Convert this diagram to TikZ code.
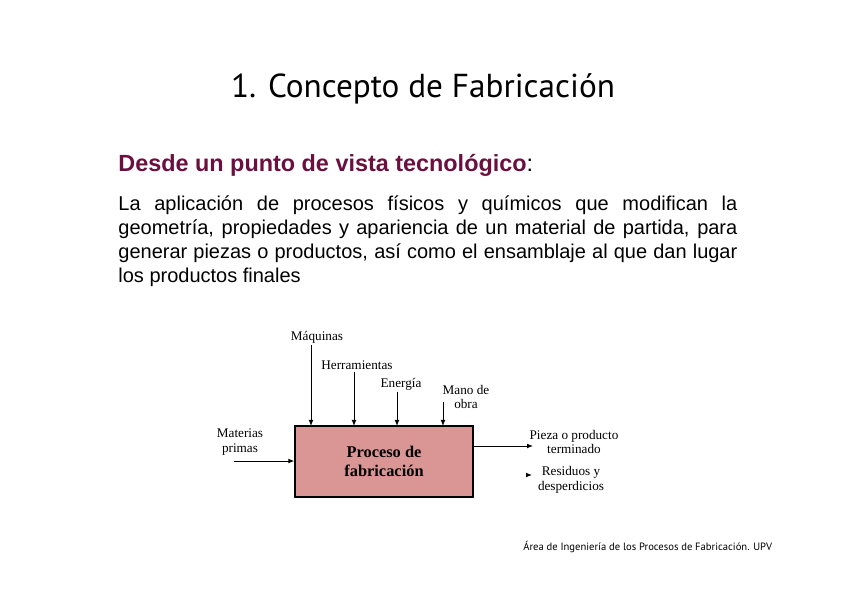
\documentclass[tikz,border=0pt]{standalone}
\usepackage{fontspec}
\setmainfont{Liberation Sans}
\newfontfamily\serifdiag{Liberation Serif}
\newfontfamily\titlefont{PT Sans}
\usepackage{tikz}
\usetikzlibrary{arrows.meta, positioning}
\usepackage{xcolor}
\definecolor{maroon}{HTML}{6B0F3F}
\definecolor{procfill}{HTML}{D99694}

\begin{document}
\begin{tikzpicture}[
    x=0.5pt, y=-0.5pt,
    lbl/.style = {font=\serifdiag\fontsize{6.6}{7.4}\selectfont, align=center, inner sep=0pt},
    procbox/.style = {rectangle, draw=black, fill=procfill, line width=0.7pt, minimum width=89pt, minimum height=35.5pt, align=center, font=\serifdiag\bfseries\fontsize{8.2}{9.6}\selectfont},
    flow/.style = {draw=black, line width=0.45pt, -{Latex[length=3pt,width=2.4pt]}}
]
\useasboundingbox (0,0) rectangle (848,599);

% Title and text
\node (title) [anchor=base, font=\titlefont\fontsize{16.6}{19}\selectfont, inner sep=0pt] at (423,98) {1. Concepto de Fabricación};
\node (heading) [anchor=base west, font=\bfseries\fontsize{11.7}{13}\selectfont, text=maroon, inner sep=0pt] at (118,172) {Desde un punto de vista tecnológico\textcolor{black}{\mdseries:}};
\node (body) [anchor=north west, text width=309.5pt, align=justify, font=\fontsize{10}{12}\selectfont, inner sep=0pt] at (118,195) {\tolerance=9999 La aplicación de procesos físicos y químicos que modifican la \mbox{geometría}, propiedades y apariencia de un material de partida, para generar piezas o productos, así como el ensamblaje al que dan lugar los productos finales};

% Process box
\node (proc) [procbox] at (384,461.5) {Proceso de\\fabricación};

% Inputs from above
\node (maq) [lbl] at (317,337) {Máquinas};
\node (herr) [lbl] at (357,365) {Herramientas};
\node (ener) [lbl] at (401,384) {Energía};
\node (mano) [lbl] at (466,397) {Mano de\\obra};
\coordinate (maqin) at (311,426);
\coordinate (herrin) at (354,426);
\coordinate (enerin) at (397,426);
\coordinate (manoin) at (443,426);
\draw [flow] (311,345) -- (maqin);
\draw [flow] (354,372) -- (herrin);
\draw [flow] (397,392) -- (enerin);
\draw [flow] (443,402) -- (manoin);

% Input from the left
\node (mat) [lbl] at (240,442) {Materias\\primas};
\draw [flow] (234,461) -- (proc.west |- 0,461);

% Outputs
\node (pieza) [lbl] at (574,442) {Pieza o producto\\terminado};
\node (resid) [lbl] at (571,480) {Residuos y\\desperdicios};
\coordinate (pzend) at (533,446);
\draw [flow] (proc.east |- pzend) -- (pzend);
\coordinate (rsend) at (532,475);
\draw [flow] (529,475) -- (rsend);

% Footer
\node (foot) [anchor=base west, font=\titlefont\fontsize{5.3}{6}\selectfont, inner sep=0pt] at (523,551) {Área de Ingeniería de los Procesos de Fabricación. UPV};

\end{tikzpicture}
\end{document}
